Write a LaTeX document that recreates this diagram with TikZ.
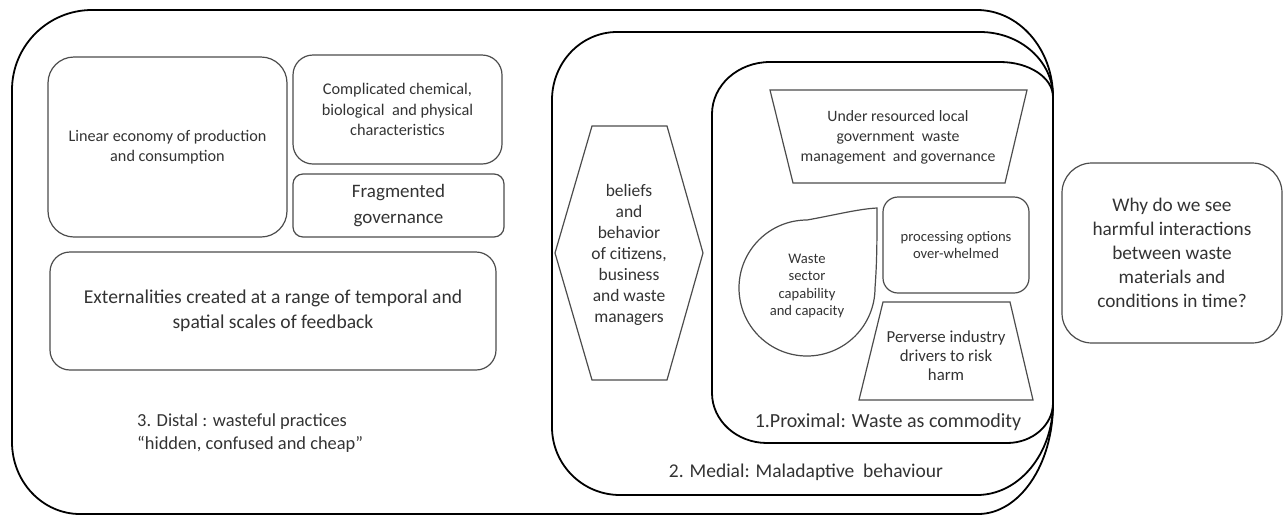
\documentclass[tikz,border=0pt]{standalone}
\usepackage{fontspec}
\setmainfont{Carlito}
\begin{document}
\begin{tikzpicture}[x=1pt,y=1pt,
  bigbox/.style={draw=black, line width=1.8pt},
  innerbox/.style={draw=black!70, line width=1.2pt},
  rbox/.style={innerbox, rounded corners=#1, inner sep=0pt, text=black!80, align=center},
  txt/.style={text=black!80, align=center, inner sep=0pt},
  fs/.style 2 args={font=\fontsize{#1}{#2}\selectfont}
]
\useasboundingbox (0,0) rectangle (1288,-515);

% nested scopes of causes: distal, medial, proximal (elliptical corners)
\draw[bigbox] (92,-10) -- (977,-10)
  arc[start angle=90, end angle=0, x radius=76, y radius=87]
  -- (1053,-404)
  arc[start angle=0, end angle=-90, x radius=75, y radius=110]
  -- (80,-514)
  arc[start angle=-90, end angle=-180, x radius=68, y radius=72]
  -- (12,-90)
  arc[start angle=180, end angle=90, x radius=80, y radius=80] -- cycle;
\draw[bigbox] (617,-32) -- (980,-32)
  arc[start angle=90, end angle=0, x radius=73, y radius=65]
  -- (1053,-403)
  arc[start angle=0, end angle=-90, x radius=76, y radius=92]
  -- (620,-495)
  arc[start angle=-90, end angle=-180, x radius=68, y radius=68]
  -- (552,-100)
  arc[start angle=180, end angle=90, x radius=65, y radius=68] -- cycle;
\draw[bigbox] (770,-62) -- (1000,-62)
  arc[start angle=90, end angle=0, x radius=53, y radius=35]
  -- (1053,-403)
  arc[start angle=0, end angle=-90, x radius=46, y radius=40]
  -- (767,-443)
  arc[start angle=-90, end angle=-180, x radius=55, y radius=50]
  -- (712,-114)
  arc[start angle=180, end angle=90, x radius=58, y radius=52] -- cycle;

% distal factors
\node[rbox=26, minimum width=239pt, minimum height=180pt, fs={16.2}{20}] (linear) at (167.5,-147)
  {Linear economy of production\\and consumption};
\node[rbox=20, minimum width=209pt, minimum height=109pt, fs={16.3}{20.5}] (chem) at (397.5,-109.5)
  {Complicated chemical,\\biological\ \ and physical\\characteristics};
\node[rbox=10, minimum width=211pt, minimum height=63pt, fs={19}{26}] (frag) at (398.5,-205.5)
  {Fragmented\\governance};
\node[rbox=20, minimum width=446pt, minimum height=118pt, fs={19.6}{25}] (ext) at (273,-311)
  {Externalities created at a range of temporal and\\spatial scales of feedback};
\node[txt, anchor=west, align=left, fs={18.4}{23}] (distal) at (137,-433.5)
  {3. Distal : wasteful practices\\``hidden, confused and cheap''};

% medial factors
\draw[innerbox] (555,-253) -- (592,-126) -- (667,-126) -- (703,-253) -- (667,-380) -- (592,-380) -- cycle;
\node[txt, fs={17.5}{21}] (beliefs) at (629,-255)
  {beliefs\\and\\behavior\\of citizens,\\business\\and waste\\managers};
\node[txt, fs={19.5}{24}] (medial) at (806,-472) {2. Medial: Maladaptive\ \ behaviour};

% proximal factors
\draw[innerbox] (770,-90) -- (1027,-90) -- (1005,-183) -- (793,-183) -- cycle;
\node[txt, fs={15.8}{20}] (under) at (898,-137)
  {Under resourced local\\government\ \ waste\\management\ \ and governance};

\draw[innerbox] (875,-288) arc[start angle=0, end angle=-270, radius=68]
  .. controls (835,-215) and (858,-209) .. (877,-208)
  .. controls (877,-240) and (877,-262) .. (875,-288) -- cycle;
\node[txt, fs={14.6}{17.5}] (sector) at (807,-286)
  {Waste\\sector\\capability\\and capacity};

\node[rbox=15, minimum width=146pt, minimum height=96pt, fs={14.6}{17}] (proc) at (956,-245)
  {processing options\\over-whelmed};

\draw[innerbox] (883,-302) -- (1010,-302) -- (1033,-400) -- (859,-400) -- cycle;
\node[txt, fs={16.8}{19}] (perverse) at (946,-356)
  {Perverse industry\\drivers to risk\\harm};

\node[txt, fs={20}{24}] (proximal) at (888,-422) {1.Proximal: Waste as commodity};

% guiding question
\node[rbox=30, minimum width=220pt, minimum height=180pt, fs={19.3}{24}] (why) at (1172,-253)
  {Why do we see\\harmful interactions\\between waste\\materials and\\conditions in time?};
\end{tikzpicture}
\end{document}
